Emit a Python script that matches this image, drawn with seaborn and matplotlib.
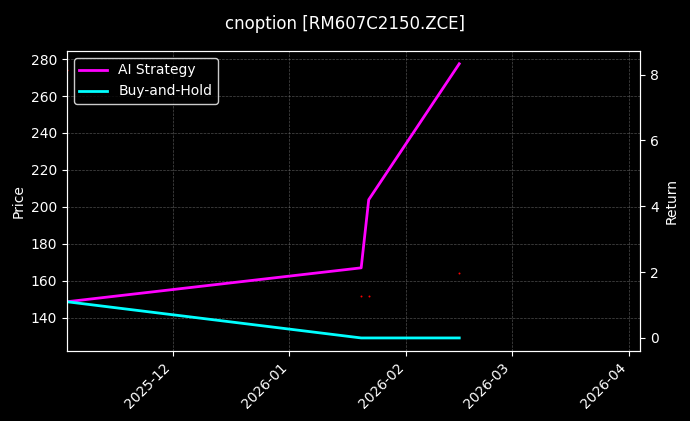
import pandas as pd
import numpy as np
import matplotlib
matplotlib.use('Agg')
import matplotlib.pyplot as plt
import matplotlib.dates as mdates
import seaborn as sns

plt.style.use('dark_background')
plt.rcParams['font.size'] = 10

dates = pd.to_datetime(['2025-11-03', '2026-01-20', '2026-01-22', '2026-02-15'])
price = [274, 152, 152, 164]
ai_return = [1.1, 2.13, 4.2, 8.33]
bh_return = [1.1, 0.0, 0.0, 0.0]

df = pd.DataFrame({'date': dates, 'price': price, 'ai': ai_return, 'bh': bh_return})

fig = plt.figure(figsize=(6.9, 4.21), dpi=100)
ax = fig.add_axes([0.097, 0.166, 0.831, 0.713])
ax2 = ax.twinx()

sns.scatterplot(x='date', y='price', data=df, ax=ax, color='red', s=2, linewidth=0, legend=False)
sns.lineplot(x='date', y='ai', data=df, ax=ax2, color='#ff00ff', linewidth=2, label='AI Strategy')
sns.lineplot(x='date', y='bh', data=df, ax=ax2, color='#00ffff', linewidth=2, label='Buy-and-Hold')

ax.set_ylim(121.9, 284.4)
ax2.set_ylim(-0.4, 8.72)
ax.set_xlim(pd.Timestamp('2025-11-03'), pd.Timestamp('2026-04-04'))
ax.set_ylabel('Price')
ax.set_xlabel('')
ax2.set_ylabel('Return')
ax2.set_xlabel('')
ax.xaxis.set_major_locator(mdates.MonthLocator())
ax.xaxis.set_major_formatter(mdates.DateFormatter('%Y-%m'))
plt.setp(ax.get_xticklabels(), rotation=45, ha='right')
ax.grid(True, color='gray', linestyle='--', linewidth=0.5, alpha=0.6)
ax2.legend(loc='upper left', facecolor='black', edgecolor='white')
fig.suptitle('cnoption [RM607C2150.ZCE]', y=0.965, fontsize=12)
fig.savefig('out.png', dpi=100)
